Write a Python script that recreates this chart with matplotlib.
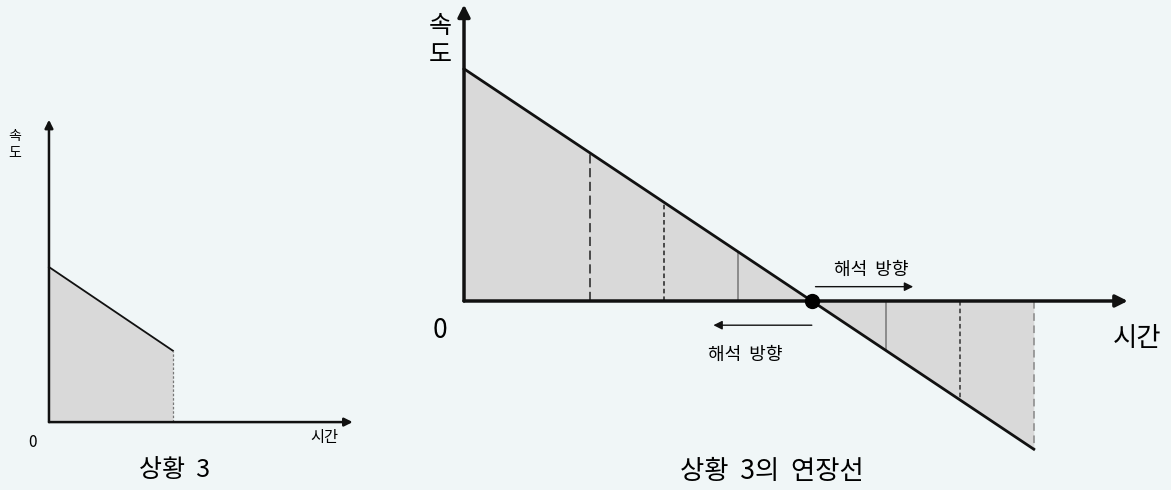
import matplotlib.pyplot as plt

plt.rcParams['font.family'] = ['Noto Sans CJK KR', 'DejaVu Sans']

# 상황 3 (left): speed falls linearly, then stops
sit_time = [0, 4]
sit_speed = [5, 2.3]

# 상황 3의 연장선 (right): same line extended through zero
ext_time = [0, 4.7, 7.7]
ext_speed = [4.7, 0, -3]
cross_time = 4.7
cut_times = [1.7, 2.7, 3.7, 5.7, 6.7, 7.7]
cut_styles = [(0, (6, 3)), (0, (3, 2)), '-', '-', (0, (3, 2)), (0, (5, 3))]
cut_colors = ['#222222', '#222222', '#777777', '#777777', '#333333', '#888888']

bg = '#f0f6f7'
fill = '#d9d9d9'

fig = plt.figure(figsize=(11.71, 4.90), dpi=100, facecolor=bg)

# ---- left panel
ax1 = fig.add_axes([0, 0, 380 / 1171, 1])
ax1.set_xlim(-1.58, 10.68)
ax1.set_ylim(-2.19, 13.61)
ax1.axis('off')
ax1.fill_between(sit_time, sit_speed, 0, color=fill, lw=0)
ax1.plot(sit_time, sit_speed, color='#111111', lw=1.3)
ax1.plot([sit_time[-1], sit_time[-1]], [0, sit_speed[-1]], color='#777777', lw=0.9, ls=(0, (2, 1.5)))
ax1.annotate('', xy=(0, 9.75), xytext=(0, 0),
             arrowprops=dict(arrowstyle='-|>', color='#111111', lw=1.8, mutation_scale=12, shrinkA=0, shrinkB=0))
ax1.annotate('', xy=(9.8, 0), xytext=(0, 0),
             arrowprops=dict(arrowstyle='-|>', color='#111111', lw=1.8, mutation_scale=12, shrinkA=0, shrinkB=0))
ax1.text(-1.1, 8.95, '속\n도', fontsize=10, ha='center', va='center', linespacing=1.2)
ax1.text(-0.52, -0.65, '0', fontsize=11, ha='center', va='center')
ax1.text(8.9, -0.5, '시간', fontsize=11, ha='center', va='center')
ax1.text(4.05, -1.55, '상황  3', fontsize=18, ha='center', va='center')

# ---- right panel
ax2 = fig.add_axes([400 / 1171, 0, 771 / 1171, 1])
ax2.set_xlim(-0.865, 9.554)
ax2.set_ylim(-3.826, 6.093)
ax2.axis('off')
ax2.fill_between(ext_time, ext_speed, 0, color=fill, lw=0)
for t, ls, c in zip(cut_times, cut_styles, cut_colors):
    v = ext_speed[0] - t
    ax2.plot([t, t], [0, v], color=c, lw=1.1, ls=ls)
ax2.plot(ext_time, ext_speed, color='#111111', lw=2)
ax2.annotate('', xy=(0, 6.0), xytext=(0, 0),
             arrowprops=dict(arrowstyle='-|>', color='#111111', lw=2.5, mutation_scale=18, shrinkA=0, shrinkB=0))
ax2.annotate('', xy=(8.97, 0), xytext=(0, 0),
             arrowprops=dict(arrowstyle='-|>', color='#111111', lw=2.5, mutation_scale=18, shrinkA=0, shrinkB=0))
ax2.plot([cross_time], [0], 'o', color='#000000', ms=10, zorder=5)

# reading directions
ax2.annotate('', xy=(cross_time + 1.37, 0.29), xytext=(cross_time + 0.05, 0.29),
             arrowprops=dict(arrowstyle='-|>', color='#111111', lw=1, mutation_scale=13, shrinkA=0, shrinkB=0))
ax2.text(cross_time + 0.8, 0.63, '해석  방향', fontsize=13, ha='center', va='center')
ax2.annotate('', xy=(cross_time - 1.33, -0.49), xytext=(cross_time, -0.49),
             arrowprops=dict(arrowstyle='-|>', color='#111111', lw=1, mutation_scale=13, shrinkA=0, shrinkB=0))
ax2.text(cross_time - 0.9, -1.1, '해석  방향', fontsize=13, ha='center', va='center')

ax2.text(-0.32, 5.28, '속\n도', fontsize=18, ha='center', va='center', linespacing=1.15)
ax2.text(-0.32, -0.6, '0', fontsize=19, ha='center', va='center')
ax2.text(9.1, -0.75, '시간', fontsize=19, ha='center', va='center')
ax2.text(4.16, -3.45, '상황  3의  연장선', fontsize=19, ha='center', va='center')

fig.savefig('out.png', dpi=100, facecolor=bg)
